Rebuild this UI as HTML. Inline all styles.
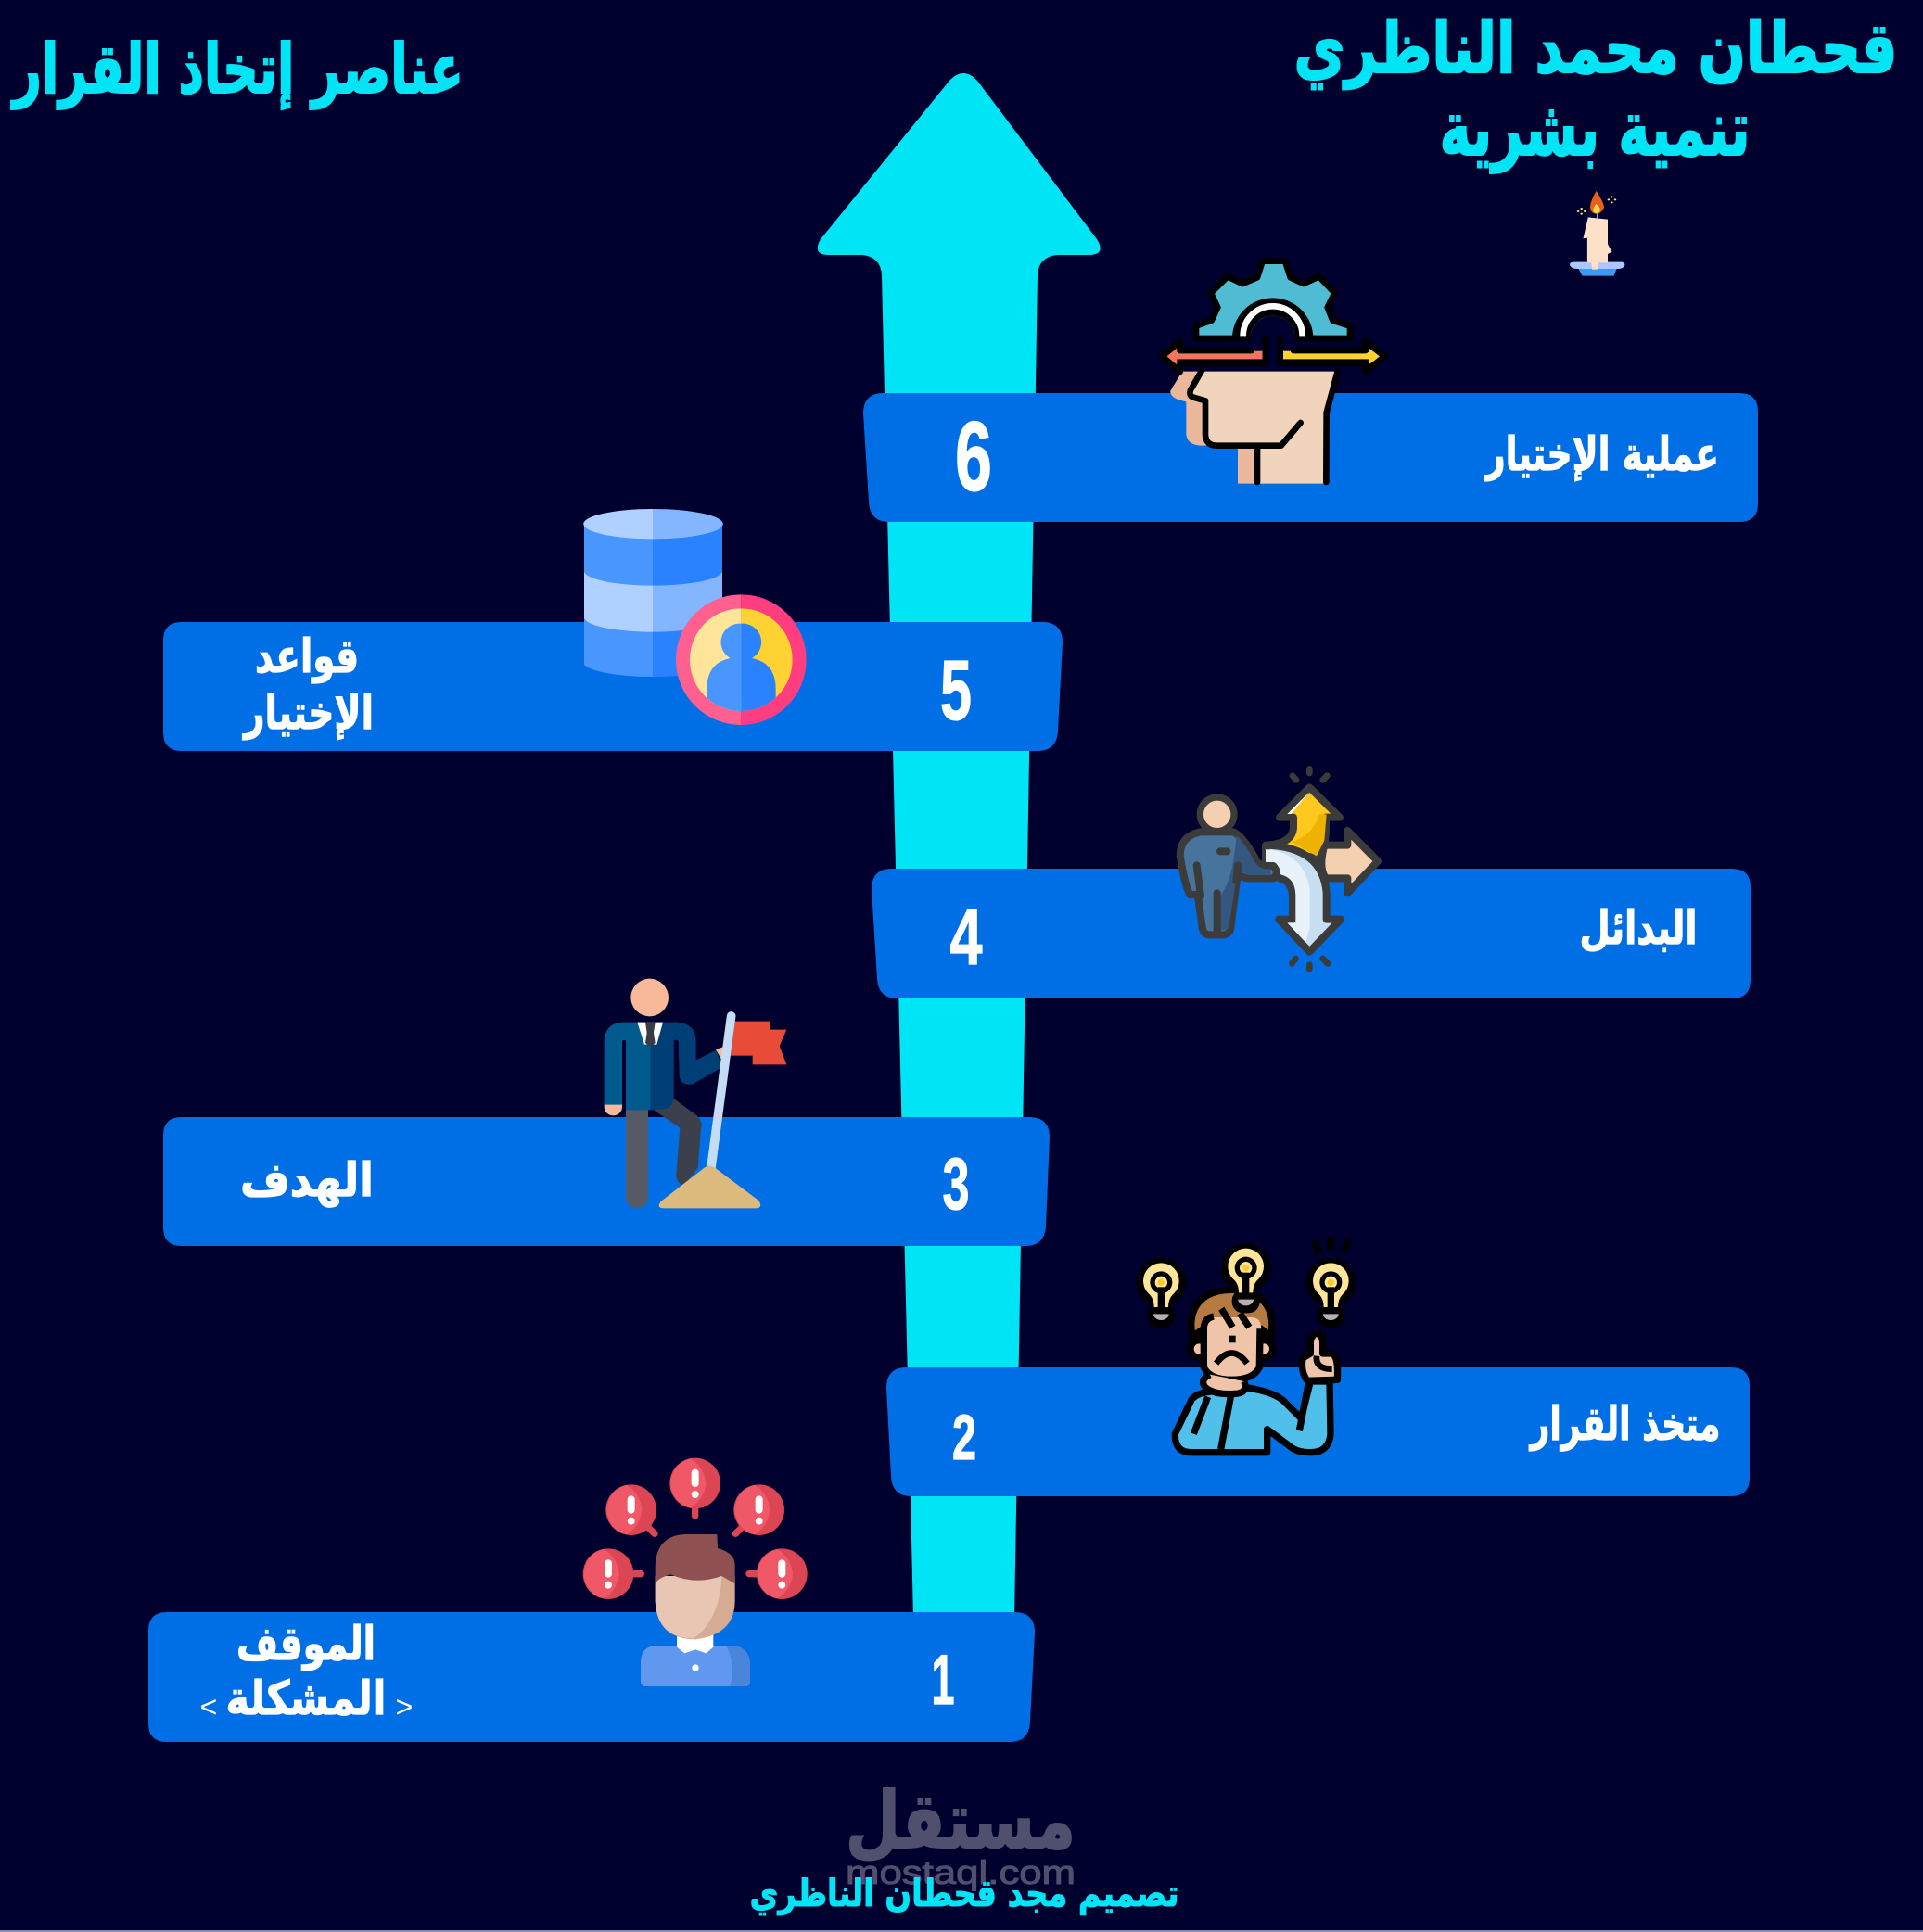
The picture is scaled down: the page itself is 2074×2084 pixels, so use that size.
<!DOCTYPE html>
<html lang="ar"><head><meta charset="utf-8"><title>عناصر إتخاذ القرار</title>
<style>html,body{margin:0;padding:0;background:#00002e}svg{display:block}
.ar{font-family:"DejaVu Sans","Liberation Sans",sans-serif;font-weight:bold;direction:rtl;text-anchor:middle}
.c{fill:#00e5f5;stroke:#00e5f5}.w{fill:#fff;stroke:#fff}
.n{font-family:"Liberation Sans",sans-serif;font-weight:bold;fill:#fff;stroke:#fff;stroke-width:1.2;text-anchor:middle}
</style></head><body>
<svg xmlns="http://www.w3.org/2000/svg" width="2074" height="2084" viewBox="0 0 2074 2084">
<rect width="2074" height="2084" fill="#00002e"/>
<rect y="2082" width="2074" height="2" fill="#8a8ab0"/>

<!-- main arrow -->
<path fill="#00e5f5" d="M1024 87Q1039 71 1054 87L1183 258Q1193 274 1176 275L1140 275Q1120 277 1119 297L1094 1745L985 1745L951 297Q950 277 930 275L892 275Q876 274 885 258Z"/>

<!-- bars -->
<g fill="#006fe6">
<path d="M953 424L1876 424Q1896 424 1896 444L1896 543Q1896 563 1876 563L959 563Q938 563 937 541L931 446Q931 424 953 424Z"/>
<path d="M196 671L1124 671Q1146 671 1146 693L1141 788Q1140 810 1119 810L196 810Q176 810 176 790L176 691Q176 671 196 671Z"/>
<path d="M962 937L1868 937Q1888 937 1888 957L1888 1057Q1888 1077 1868 1077L968 1077Q947 1077 946 1055L940 959Q940 937 962 937Z"/>
<path d="M196 1205L1110 1205Q1132 1205 1132 1227L1128 1322Q1127 1344 1106 1344L196 1344Q176 1344 176 1324L176 1225Q176 1205 196 1205Z"/>
<path d="M978 1475L1867 1475Q1887 1475 1887 1495L1887 1594Q1887 1614 1867 1614L983 1614Q962 1614 961 1592L956 1497Q956 1475 978 1475Z"/>
<path d="M180 1739L1094 1739Q1116 1739 1116 1761L1111 1857Q1110 1879 1089 1879L180 1879Q160 1879 160 1859L160 1759Q160 1739 180 1739Z"/>
</g>

<!-- titles -->
<text class="ar c" x="1721" y="78" font-size="76" stroke-width="2" textLength="651" lengthAdjust="spacingAndGlyphs">قحطان محمد الناظري</text>
<text class="ar c" x="1720" y="167" font-size="82" stroke-width="2" textLength="335" lengthAdjust="spacingAndGlyphs">تنمية بشرية</text>
<text class="ar c" x="257" y="100" font-size="74" stroke-width="2" textLength="486" lengthAdjust="spacingAndGlyphs">عناصر إتخاذ القرار</text>

<!-- labels -->
<g font-size="50">
<text class="ar w" x="1728" y="507" stroke-width="1.2" textLength="252" lengthAdjust="spacingAndGlyphs">عملية الإختيار</text>
<text class="ar w" x="331" y="725" stroke-width="1.2" textLength="112" lengthAdjust="spacingAndGlyphs">قواعد</text>
<text class="ar w" x="333" y="786" stroke-width="1.2" textLength="140" lengthAdjust="spacingAndGlyphs">الإختيار</text>
<text class="ar w" x="1767" y="1018" stroke-width="1.2" textLength="127" lengthAdjust="spacingAndGlyphs">البدائل</text>
<text class="ar w" x="331" y="1290" stroke-width="1.2" textLength="144" lengthAdjust="spacingAndGlyphs">الهدف</text>
<text class="ar w" x="1753" y="1553" stroke-width="1.2" textLength="205" lengthAdjust="spacingAndGlyphs">متخذ القرار</text>
<text class="ar w" x="330" y="1790" stroke-width="1.2" textLength="150" lengthAdjust="spacingAndGlyphs">الموقف</text>
<text class="ar w" x="330" y="1849" stroke-width="1.2" textLength="173" lengthAdjust="spacingAndGlyphs">المشكلة</text>
</g>
<text x="225" y="1852" font-family="Liberation Sans,sans-serif" font-size="32" fill="#fff" text-anchor="middle">&lt;</text>
<text x="436" y="1852" font-family="Liberation Sans,sans-serif" font-size="32" fill="#fff" text-anchor="middle">&gt;</text>

<!-- numbers -->
<text class="n" x="1050" y="529" font-size="107" textLength="40" lengthAdjust="spacingAndGlyphs">6</text>
<text class="n" x="1031" y="776" font-size="92" textLength="34" lengthAdjust="spacingAndGlyphs">5</text>
<text class="n" x="1042" y="1040" font-size="86" textLength="35" lengthAdjust="spacingAndGlyphs">4</text>
<text class="n" x="1031" y="1304" font-size="79" textLength="29" lengthAdjust="spacingAndGlyphs">3</text>
<text class="n" x="1040" y="1574" font-size="69" textLength="26" lengthAdjust="spacingAndGlyphs">2</text>
<text class="n" x="1017" y="1838" font-size="76" textLength="25" lengthAdjust="spacingAndGlyphs">1</text>

<!-- head icon -->
<g transform="translate(1150 180) scale(.33333)">
<path fill="#eab89a" d="M375 662L337 725Q335 750 388 760L388 865Q392 902 440 902L480 902L480 700L440 662ZM555 905L610 905L610 1025L555 1025Z"/>
<path fill="#f0d4bc" d="M445 662L872 662L840 795L840 1025L610 1025L610 905L480 900L450 870L450 757L405 740L400 725Z"/>
<g fill="none" stroke="#000" stroke-width="20" stroke-linecap="round" stroke-linejoin="round">
<path d="M438 660L402 722Q396 742 412 746L450 757L450 868Q452 902 488 902L695 902L758 828"/>
<path d="M618 910L618 1020"/><path d="M878 662L842 795L841 1020"/>
</g>
<path fill="#50bcd4" stroke="#000" stroke-width="20" stroke-linejoin="round" d="M420 555L420 515L470 497L490 455L468 408L522 355L570 378L618 358L635 305L708 305L725 358L768 378L818 355L868 408L845 455L862 497L918 515L918 555Z"/>
<path fill="none" stroke="#000" stroke-width="58" d="M566 555A102 102 0 0 1 770 555"/>
<path fill="none" stroke="#fff" stroke-width="20" d="M572 547A96 96 0 0 1 764 547"/>
<path fill="#00002e" d="M595 566L595 555A73 73 0 0 1 741 555L741 566Z"/>
<path fill="#f4765a" d="M320 613L358 585L358 600L635 596L635 622L358 622L358 640Z"/>
<path fill="#ffd22e" d="M1018 613L978 585L978 600L702 596L702 622L978 622L978 640Z"/>
<g fill="none" stroke="#000" stroke-width="20" stroke-linejoin="round" stroke-linecap="round">
<path d="M600 594L368 594L368 565L310 613L368 663L368 635L645 635L645 555"/>
<path d="M735 594L968 594L968 565L1030 613L968 663L968 635L692 635L692 555"/>
</g>
</g>

<!-- database icon -->
<g transform="translate(600 520) scale(.33333)">
<path fill="#4a96ff" d="M90 135L90 590A222 48 0 0 0 312 630L312 135Z"/>
<path fill="#2a82ff" d="M312 135L537 135L537 590A225 48 0 0 1 312 630Z"/>
<path fill="#b0d0ff" d="M90 290A222 48 0 0 0 312 335L312 485A222 48 0 0 1 90 440Z"/>
<path fill="#84b6ff" d="M537 290A225 48 0 0 1 312 335L312 485A225 48 0 0 0 537 440Z"/>
<path fill="#b0d0ff" d="M312 87A222 48 0 0 0 312 184Z"/>
<path fill="#84b6ff" d="M312 87A225 48 0 0 1 312 184Z"/>
<clipPath id="cp1"><circle cx="598" cy="575" r="166"/></clipPath>
<path fill="#ff6090" d="M598 364A211 211 0 0 0 598 786Z"/>
<path fill="#ff3d7f" d="M598 364A211 211 0 0 1 598 786Z"/>
<path fill="#ffe59a" d="M598 409A166 166 0 0 0 598 741Z"/>
<path fill="#ffd233" d="M598 409A166 166 0 0 1 598 741Z"/>
<g clip-path="url(#cp1)">
<path fill="#4a96ff" d="M598 458A60 60 0 0 0 563 570Q487 585 487 670L487 760L598 760Z"/>
<path fill="#2a82ff" d="M598 458A60 60 0 0 1 633 570Q710 585 710 670L710 760L598 760Z"/>
</g>
</g>

<!-- alternatives icon -->
<g transform="translate(1240 810) scale(.33333)" stroke="#3b3b3b" stroke-width="24" stroke-linejoin="round" stroke-linecap="round">
<path fill="#f5d0b0" d="M565 305L640 305L640 258L738 357L640 460L640 412L570 412Q545 380 565 305Z"/>
<path fill="#ffc81e" d="M517 118L420 215L465 215L465 250Q460 300 380 305L545 350Q570 310 570 250L570 215L615 215Z"/>
<path fill="#edb300" stroke="none" d="M460 295Q530 270 548 205L572 205L565 290L540 340Z"/>
<path fill="#fff" stroke="none" d="M517 132L445 204L458 204Z"/>
<path fill="#c8def2" d="M375 305Q560 310 572 460L572 545L618 545L517 650L418 545L462 545L462 470Q460 420 420 412L375 360Z"/>
<path fill="#e8f2fb" stroke="none" d="M375 318Q500 330 518 450L518 570L505 620L445 556L472 556L472 465Q470 405 415 398L375 358Z"/>
<path fill="#47749c" d="M98 340Q98 275 165 262L270 262Q300 275 340 345Q350 375 385 372L400 372Q420 395 400 412L320 412Q295 410 285 395L262 570Q260 595 235 595L195 595Q172 595 170 570L155 465L130 465Q115 440 98 340Z"/>
<path fill="#34577f" stroke="none" d="M280 275Q300 285 335 350Q350 385 390 382L392 402L320 402L285 385L255 575L218 585L218 480Q270 430 280 275Z"/>
<path fill="none" d="M152 370L165 470M218 460L218 590M285 370L280 420M228 325L250 325"/>
<circle cx="218" cy="205" r="55" fill="#f5d0b0" stroke-width="22"/>
<path fill="none" stroke-width="20" d="M517 58L517 72M462 80L474 94M574 80L560 94M517 692L517 706M460 688L472 672M576 688L560 672"/>
</g>

<!-- goal icon -->
<g transform="translate(630 1040) scale(.33333)">
<circle cx="212" cy="108" r="61" fill="#f8b89a"/>
<path fill="#3c3f4c" d="M225 472L290 435L365 490Q385 510 378 530L368 660L320 720Q295 700 298 680L310 530Z"/>
<path fill="#555a66" d="M135 470L207 470L207 754A36 36 0 0 1 135 754Z"/>
<path fill="#f8b89a" d="M65 450L123 450L123 462A29 28 0 0 1 65 462Z"/>
<path fill="#005a8e" d="M215 188L130 188Q65 188 65 255L65 455L123 455L123 250Q128 242 135 248L135 472L215 472Z"/>
<path fill="#003f75" d="M215 188L300 188Q362 192 362 250L362 310L428 278L445 335L350 388Q312 395 308 360L305 250Q298 240 290 248L290 435Q285 470 250 470L215 472Z"/>
<path fill="#fff" d="M172 188L255 188L235 260L195 260Z"/>
<path fill="#3a3a45" d="M198 188L230 188L225 222L230 255Q214 272 198 255L203 222Z"/>
<path fill="#f8b89a" d="M426 276L448 268L460 300L445 310Z"/>
<path fill="#e84c38" d="M488 185L600 185L600 212L655 212L632 265L655 325L545 325L545 296L474 296Z"/>
<path stroke="#c4dcf4" stroke-width="29" stroke-linecap="round" d="M476 168L410 665"/>
<path fill="#dcba7e" d="M390 658Q405 648 422 658L565 765Q580 790 555 790L258 790Q232 790 248 768Z"/>
</g>

<!-- thinker icon -->
<g transform="translate(1210 1320) scale(.33333)">
<g>
<circle cx="127" cy="190" r="80"/><rect x="82" y="260" width="90" height="76" rx="36"/>
<path fill="#ffe59a" d="M104 270Q104 240 85 225A58 58 0 1 1 169 225Q150 240 150 270Z"/>
<circle cx="127" cy="190" r="36"/><circle cx="127" cy="190" r="20" fill="#ffe59a"/><circle cx="127" cy="190" r="11" fill="#ffc92e"/>
<rect x="116" y="205" width="22" height="70"/><path fill="#b8b0b4" d="M102 292L152 292A25 20 0 0 1 102 292Z"/>
</g>
<g>
<circle cx="676" cy="190" r="80"/><rect x="631" y="260" width="90" height="76" rx="36"/>
<path fill="#ffe59a" d="M653 270Q653 240 634 225A58 58 0 1 1 718 225Q699 240 699 270Z"/>
<circle cx="676" cy="190" r="36"/><circle cx="676" cy="190" r="20" fill="#ffe59a"/><circle cx="676" cy="190" r="11" fill="#ffc92e"/>
<rect x="665" y="205" width="22" height="70"/><path fill="#b8b0b4" d="M651 292L701 292A25 20 0 0 1 651 292Z"/>
</g>
<path stroke="#000" stroke-width="22" d="M622 55L638 95M676 42L676 85M733 52L716 93"/>
<circle cx="250" cy="405" r="28" fill="#f0c4a8" stroke="#000" stroke-width="22"/>
<circle cx="460" cy="405" r="28" fill="#f0c4a8" stroke="#000" stroke-width="22"/>
<path fill="#b57a42" stroke="#000" stroke-width="22" d="M228 365C210 270 260 214 355 214C450 214 500 270 482 365L450 340L265 340Z"/>
<path fill="#f0c4a8" d="M265 330Q265 305 295 303L420 303Q450 305 450 335L450 460Q420 500 355 500Q290 500 265 460Z"/>
<path fill="none" stroke="#000" stroke-width="22" d="M297 300Q268 305 265 335L265 465Q285 505 355 505Q425 505 445 465L447 340M322 275L358 335M382 290L412 335"/>
<rect x="345" y="362" width="23" height="23"/>
<path fill="none" stroke="#000" stroke-width="20" d="M305 452Q355 385 405 452"/>
<path fill="#50c0ea" stroke="#000" stroke-width="22" stroke-linejoin="round" d="M172 680L225 570Q240 550 275 545L400 530Q500 545 530 580L580 630L610 510L672 510L675 680Q670 740 610 740Q570 740 550 725L470 665L470 740L225 740Q170 740 172 680Z"/>
<path fill="#f0c4a8" stroke="#000" stroke-width="22" d="M285 488Q250 505 270 530Q300 555 370 550Q410 545 395 510"/>
<path fill="none" stroke="#000" stroke-width="22" d="M278 560L232 680M352 560L320 730M605 510L574 670"/>
<path fill="#f0c4a8" stroke="#000" stroke-width="22" stroke-linejoin="round" d="M610 420L610 375Q630 335 650 375L650 420L680 420Q702 430 697 505L600 508Q578 480 585 435Z"/>
<path fill="none" stroke="#000" stroke-width="20" d="M630 428Q625 470 680 470"/>
<g>
<circle cx="401" cy="143" r="80"/><rect x="356" y="213" width="90" height="76" rx="36"/>
<path fill="#ffe59a" d="M378 223Q378 193 359 178A58 58 0 1 1 443 178Q424 193 424 223Z"/>
<circle cx="401" cy="143" r="36"/><circle cx="401" cy="143" r="20" fill="#ffe59a"/><circle cx="401" cy="143" r="11" fill="#ffc92e"/>
<rect x="390" y="158" width="22" height="70"/><path fill="#b8b0b4" d="M376 245L426 245A25 20 0 0 1 376 245Z"/>
</g>
</g>

<!-- problem icon -->
<g transform="translate(610 1560) scale(.33333)">
<defs>
<g id="al"><circle r="82" fill="#dc4554"/><path fill="#f05868" d="M-15 -80A82 82 0 0 0 -15 80A100 100 0 0 0 35 0A100 100 0 0 0 -15 -80Z"/><rect x="-12" y="-46" width="24" height="58" rx="12" fill="#fff"/><circle cy="36" r="12" fill="#fff"/></g>
</defs>
<path stroke="#dc4554" stroke-width="22" stroke-linecap="round" fill="none" d="M419 200L419 225M265 260L288 283M573 260L550 283M218 413L244 413M620 413L594 413"/>
<use href="#al" x="419" y="120"/><use href="#al" x="212" y="206"/><use href="#al" x="626" y="206"/><use href="#al" x="138" y="413"/><use href="#al" x="700" y="413"/>
<path fill="#6098f0" d="M290 645L540 645Q597 650 597 710L597 760Q597 777 580 777L260 777Q243 777 243 760L243 700Q243 650 290 645Z"/>
<path fill="#4a85dc" d="M520 645L540 645Q597 650 597 710L597 760Q597 777 580 777L530 777Q555 720 520 645Z"/>
<path fill="#fff" d="M360 600L478 600L478 650L455 670L420 658L385 670L360 650Z"/>
<path fill="#d6ab94" d="M290 420L290 500Q295 625 420 625Q548 610 548 500L548 420Z"/>
<path fill="#e9c5b4" d="M290 420L290 500Q295 620 415 622Q500 560 505 420Z"/>
<path fill="#8e5050" d="M290 445L290 385Q295 290 385 285L490 285L492 330Q548 345 548 385L548 445L505 420Q420 450 340 415Q300 425 290 445Z"/>
<circle cx="420" cy="717" r="11" fill="#fff"/>
</g>

<!-- candle -->
<g transform="translate(1380 0) scale(.4425 .33333)">
<path fill="#3c9af0" d="M728 868L822 868L815 893L738 893Z"/>
<path fill="#a8c8ff" d="M715 848L835 848Q845 852 840 862Q835 870 825 870L725 870Q712 870 708 860Q705 850 715 848Z"/>
<path fill="#fde0c8" d="M752 703L800 710L800 790L810 815L800 822L800 850L775 850L775 872L762 872L760 850L750 850L750 770L740 772Z"/>
<path fill="#e86020" d="M772 618Q795 665 790 675Q780 695 772 692Q758 690 757 670Q758 650 772 618Z"/>
<path fill="#ffd84a" d="M772 660Q785 675 780 685Q772 695 765 685Q762 675 772 660Z"/>
<path stroke="#8fb0c8" stroke-width="4" d="M775 690L775 706"/>
<g fill="#ffe070"><circle cx="736" cy="675" r="3"/><circle cx="736" cy="692" r="3"/><circle cx="728" cy="684" r="3"/><circle cx="744" cy="684" r="3"/><circle cx="810" cy="637" r="3"/><circle cx="810" cy="655" r="3"/><circle cx="802" cy="646" r="3"/><circle cx="818" cy="646" r="3"/></g>
</g>

<!-- footer -->
<text class="ar" x="1036" y="1993" font-size="84" fill="#50506e" stroke="#50506e" stroke-width="2" textLength="248" lengthAdjust="spacingAndGlyphs">مستقل</text>
<text x="1036" y="2032" font-family="Liberation Sans,sans-serif" font-size="36" fill="#50506e" stroke="#50506e" stroke-width="1" text-anchor="middle" textLength="248" lengthAdjust="spacingAndGlyphs">mostaql.com</text>
<text class="ar c" x="1040" y="2056" font-size="40" stroke-width="1" textLength="463" lengthAdjust="spacingAndGlyphs">تصميم مجد قحطان الناظري</text>
</svg>
</body></html>
